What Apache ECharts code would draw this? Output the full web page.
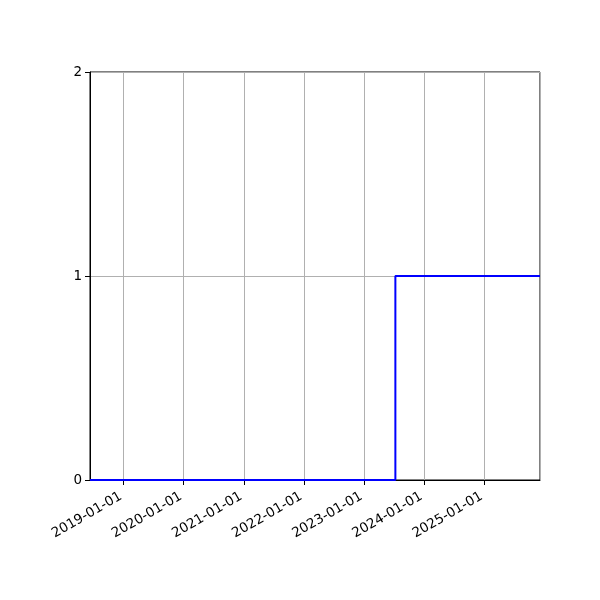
<!DOCTYPE html>
<html><head><meta charset="utf-8">
<script src="https://cdn.jsdelivr.net/npm/echarts@6/dist/echarts.min.js"></script>
<style>html,body{margin:0;padding:0;background:#fff}#c{width:600px;height:600px}</style>
</head><body><div id="c"></div>
<script>
const dates = ['2018-06-11', '2023-07-11', '2025-12-06'];
const values = [0, 1, 1];
const xMin = '2018-06-11';
const xMax = '2025-12-06';
const yTicks = [0, 1, 2];

const chart = echarts.init(document.getElementById('c'), null, {renderer: 'canvas'});
const DAY = 24 * 3600 * 1000;
chart.setOption({
  animation: false,
  grid: {left: 90, right: 60, top: 72, bottom: 120, show: true, borderColor: '#000', borderWidth: 1, backgroundColor: 'transparent'},
  xAxis: {
    type: 'time',
    min: xMin, max: xMax,
    minInterval: 365 * DAY, maxInterval: 366 * DAY,
    axisLine: {show: true, lineStyle: {color: '#000', width: 1}},
    axisTick: {show: true, length: 5, inside: false, lineStyle: {color: '#000', width: 1}},
    splitLine: {show: true, lineStyle: {color: '#b0b0b0', width: 1}},
    axisLabel: {
      rotate: 30, margin: 14, padding: [0, 3, 0, 0], color: '#000', fontSize: 13.5, fontFamily: 'DejaVu Sans',
      showMinLabel: false, showMaxLabel: false,
      formatter: v => echarts.time.format(v, '{yyyy}-{MM}-{dd}', false)
    }
  },
  yAxis: {
    type: 'value', min: yTicks[0], max: yTicks[yTicks.length - 1], interval: 1,
    axisLine: {show: true, lineStyle: {color: '#000', width: 1}},
    axisTick: {show: true, length: 5, lineStyle: {color: '#000', width: 1}},
    splitLine: {show: true, lineStyle: {color: '#b0b0b0', width: 1}},
    axisLabel: {color: '#000', fontSize: 13.5, fontFamily: 'DejaVu Sans', margin: 8}
  },
  series: [{
    type: 'line', step: 'end', symbol: 'none',
    lineStyle: {color: '#0000ff', width: 2},
    data: dates.map((d, i) => [d, values[i]])
  }]
});
</script></body></html>
